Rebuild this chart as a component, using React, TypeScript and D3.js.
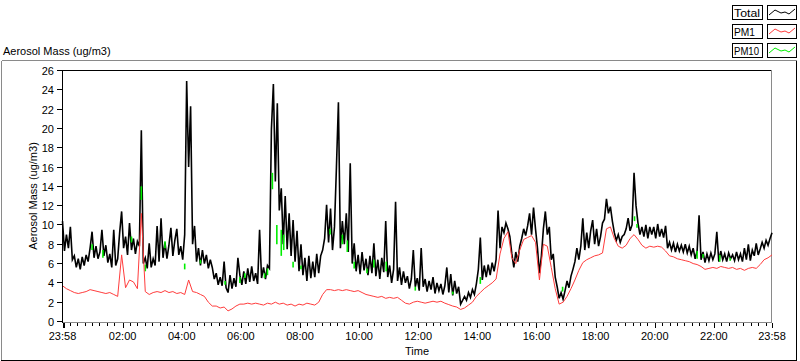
import React from "react";
import * as d3 from "d3";

// ---- Data ----
// Total aerosol mass, one sample every 4 minutes from 23:58 to 23:58 (361 samples)
const TOTAL_STEP_MIN = 4;
const totalValues: number[] = [
  10.4, 7.3, 9.0, 7.6, 9.8, 6.4, 6.8, 5.6, 6.5, 5.4, 6.7, 5.8, 6.9, 6.2, 7.6,
  9.3, 6.6, 7.8, 6.5, 7.2, 9.5, 6.8, 7.9, 6.1, 7.0, 5.6, 9.5, 5.8, 6.5, 9.2,
  11.4, 7.6, 8.8, 6.9, 10.2, 7.4, 8.6, 7.0, 8.3, 7.8, 19.8, 6.0, 6.6, 5.5, 8.1,
  5.6, 6.5, 5.8, 9.9, 6.2, 10.7, 6.6, 8.2, 6.5, 7.9, 9.7, 6.8, 8.4, 9.6, 6.9,
  7.8, 6.4, 9.0, 24.9, 16.0, 22.3, 8.0, 9.9, 6.2, 7.6, 5.8, 7.4, 6.0, 6.9, 5.5,
  6.4, 5.6, 4.4, 5.0, 3.8, 4.6, 3.7, 6.2, 3.5, 3.0, 4.8, 3.4, 4.5, 3.6, 6.6,
  4.8, 3.8, 5.2, 3.9, 5.5, 4.1, 5.7, 4.2, 5.0, 3.9, 9.5, 4.5, 5.6, 4.4, 5.8,
  5.5, 19.9, 24.6, 14.5, 22.6, 11.5, 13.8, 8.0, 13.0, 7.5, 11.2, 6.8, 10.5, 6.2, 9.4,
  5.2, 8.0, 4.8, 6.6, 4.2, 6.8, 4.5, 6.2, 4.6, 7.0, 5.0, 6.8, 7.4, 8.6, 12.1,
  8.2, 11.7, 7.4, 9.8, 16.0, 22.7, 7.6, 10.4, 8.0, 11.2, 7.2, 16.4, 6.0, 8.1, 5.2,
  6.9, 4.9, 7.2, 5.3, 6.5, 4.8, 6.8, 5.0, 8.1, 4.7, 6.4, 4.4, 6.6, 5.1, 10.4,
  4.6, 5.8, 4.0, 5.4, 12.4, 4.2, 5.6, 3.8, 5.2, 4.0, 4.7, 3.4, 4.4, 7.4, 3.6,
  4.5, 3.2, 7.6, 3.6, 4.4, 3.1, 4.2, 3.3, 4.6, 2.9, 4.0, 3.2, 3.9, 2.8, 3.7,
  5.6, 3.0, 4.9, 2.7, 4.2, 2.9, 3.6, 1.8, 2.2, 2.6, 2.2, 3.0, 2.5, 3.3, 2.8,
  3.9, 5.4, 8.7, 4.3, 5.8, 4.6, 5.9, 4.8, 6.1, 5.2, 6.4, 11.5, 7.6, 9.8, 9.2,
  10.2, 9.6, 8.8, 7.0, 5.6, 7.2, 6.2, 7.8, 8.6, 9.6, 8.9, 9.9, 11.2, 9.0, 11.8,
  9.6, 7.6, 5.0, 6.8, 9.6, 11.4, 9.0, 9.8, 6.4, 7.0, 4.6, 3.6, 2.4, 3.0, 2.3,
  3.2, 4.2, 3.5, 4.7, 5.4, 6.2, 7.6, 6.4, 7.8, 10.7, 7.4, 9.2, 7.6, 9.4, 10.5,
  8.0, 9.6, 7.8, 8.8, 10.2, 10.6, 12.7, 11.2, 11.9, 10.4, 9.2, 8.4, 9.0, 8.2, 8.8,
  9.0, 9.6, 10.7, 9.4, 10.0, 15.4, 12.0, 10.2, 9.0, 9.8, 8.8, 10.0, 8.6, 9.8, 9.0,
  9.8, 8.6, 10.1, 8.8, 9.6, 8.7, 9.9, 7.6, 8.2, 7.4, 8.1, 7.2, 8.0, 7.3, 7.9,
  7.2, 8.0, 7.1, 7.8, 6.9, 7.6, 6.5, 7.3, 11.0, 6.4, 7.2, 6.1, 7.0, 6.3, 7.1,
  6.4, 7.0, 9.3, 6.2, 7.3, 6.4, 7.0, 6.2, 7.1, 6.5, 6.9, 6.3, 7.2, 6.4, 7.0,
  6.2, 7.6, 6.4, 8.0, 6.3, 7.4, 6.8, 8.1, 6.9, 7.5, 8.2, 7.6, 8.4, 7.9, 8.6, 9.2,
];

// PM1, one sample every 8 minutes (181 samples)
const PM1_STEP_MIN = 8;
const pm1Values: number[] = [
  3.7, 3.4, 3.2, 3.0, 2.9, 3.0, 3.1, 3.3, 3.2, 3.1, 3.0, 2.9, 3.0, 2.8, 2.6,
  6.9, 3.5, 4.3, 4.1, 3.4, 11.2, 3.1, 2.8, 3.0, 3.1, 3.0, 3.2, 3.0, 3.1, 2.9,
  3.0, 2.8, 4.3, 3.1, 3.0, 2.8, 2.6, 2.0, 1.6, 1.6, 1.4, 1.5, 1.1, 1.3, 1.6,
  1.8, 1.8, 1.9, 1.8, 1.9, 1.8, 1.7, 1.9, 1.8, 2.0, 1.8, 1.9, 1.7, 1.8, 1.6,
  1.8, 1.7, 1.9, 1.8, 1.7, 2.0, 2.8, 3.3, 3.3, 3.2, 3.3, 3.2, 3.3, 3.2, 3.1,
  3.2, 3.0, 2.8, 2.7, 2.6, 2.5, 2.6, 2.4, 2.5, 2.4, 2.5, 2.2, 1.9, 1.8, 2.0,
  2.1, 2.0, 1.9, 2.0, 2.1, 2.0, 2.1, 1.9, 1.75, 1.6, 1.5, 1.25, 1.4, 1.7, 2.0,
  2.6, 3.0, 3.4, 3.7, 4.0, 4.4, 7.0, 8.6, 9.3, 6.6, 6.0, 7.4, 8.5, 8.7, 8.9,
  8.2, 4.3, 8.0, 7.8, 5.6, 3.4, 1.8, 2.0, 2.6, 3.4, 4.3, 5.3, 6.1, 6.4, 6.6,
  6.8, 6.9, 7.1, 9.6, 9.8, 8.6, 7.8, 7.6, 7.9, 8.6, 9.0, 8.5, 7.9, 7.6, 7.8,
  7.7, 7.8, 7.7, 7.3, 6.8, 6.7, 6.5, 6.4, 6.3, 6.2, 6.0, 5.9, 5.7, 5.4, 5.5,
  5.6, 5.5, 5.7, 5.6, 5.5, 5.6, 5.4, 5.5, 5.3, 5.5, 5.6, 5.5, 5.9, 6.4, 6.6,
  6.9,
];

// PM10: the excursions where it shows apart from Total (minute, low, high)
const pm10Minutes: number[] = [
  60, 82, 140, 160, 168, 208, 248, 280, 330, 360, 370, 410, 416, 426, 435, 444,
  449, 468, 484, 543, 568, 578, 592, 618, 632, 657, 716, 792, 848, 1015, 1161,
  1166, 1288, 1300, 1334, 1355,
];
const pm10Low: number[] = [
  7.4, 6.6, 8.2, 12.6, 5.2, 7.6, 5.4, 6.0, 3.8, 4.0, 4.5, 4.5, 4.8, 13.7, 8.0, 6.8,
  7.4, 5.6, 5.4, 9.0, 8.0, 7.2, 5.5, 5.0, 5.6, 5.2, 3.2, 2.8, 3.9, 3.1, 10.4,
  9.7, 6.5, 6.6, 6.2, 6.3,
];
const pm10High: number[] = [
  8.0, 7.4, 8.8, 14.0, 5.9, 8.3, 6.0, 6.4, 4.2, 4.6, 5.0, 5.0, 5.5, 15.4, 10.0, 9.5,
  9.0, 6.2, 5.8, 9.6, 9.0, 8.4, 6.2, 5.5, 6.4, 6.2, 3.6, 3.1, 4.6, 3.6, 10.9,
  10.1, 7.3, 7.0, 6.9, 6.6,
];

const xTickMinutes: number[] = [0, 122, 242, 362, 482, 602, 722, 842, 962, 1082, 1202, 1322, 1440];
const xTickLabels: string[] = ["23:58", "02:00", "04:00", "06:00", "08:00", "10:00", "12:00", "14:00", "16:00", "18:00", "20:00", "22:00", "23:58"];
const yTicks: number[] = [0, 2, 4, 6, 8, 10, 12, 14, 16, 18, 20, 22, 24, 26];

const legendNames: string[] = ["Total", "PM1", "PM10"];
const seriesColors: string[] = ["#000000", "#ff3c3c", "#00ee00"];
const legendTextWidths: number[] = [26, 21, 25];

const FONT = "'Liberation Sans', Arial, sans-serif";

export default function App() {
  const x = d3.scaleLinear().domain([0, 1440]).range([62.5, 772]);
  const y = d3.scaleLinear().domain([0, 26]).range([321.5, 70.5]);

  const totalPath = d3
    .line<number>()
    .x((_, i) => x(i * TOTAL_STEP_MIN))
    .y((d) => y(d))(totalValues) as string;
  const pm1Path = d3
    .line<number>()
    .x((_, i) => x(i * PM1_STEP_MIN))
    .y((d) => y(d))(pm1Values) as string;

  const minor: number[] = [];
  for (let k = 0; k < xTickMinutes.length - 1; k++) {
    for (let j = 1; j <= 7; j++) {
      const m = xTickMinutes[k] + j * 15;
      if (m < xTickMinutes[k + 1] - 5) minor.push(m);
    }
  }

  const px = (v: number) => Math.round(v) + 0.5;

  const legendSample = [
    [769, 14],
    [775, 9],
    [781, 12],
    [785, 11],
    [789, 13],
    [795, 8],
  ];
  const sampleLine = d3.line<number[]>().x((d) => d[0]).y((d) => d[1]);

  return (
    <div style={{ position: "fixed", left: 0, top: 0, width: 800, height: 361, background: "#fff" }}>
      <svg width={800} height={361} style={{ display: "block" }} fontFamily={FONT} fontSize={11}>
        <rect x={0} y={0} width={800} height={361} fill="#fff" />
        <text x={3} y={55} fill="#000">Aerosol Mass (ug/m3)</text>

        {/* outer frame */}
        <g shapeRendering="crispEdges">
          <line x1={1.5} y1={60.5} x2={797} y2={60.5} stroke="#8a8a8a" />
          <line x1={1.5} y1={60.5} x2={1.5} y2={360} stroke="#8a8a8a" />
          <line x1={1} y1={360.5} x2={797} y2={360.5} stroke="#000" />
          <line x1={796.5} y1={61} x2={796.5} y2={361} stroke="#000" />
        </g>

        {/* legend */}
        {legendNames.map((name, k) => {
          const ty = Math.round(4.5 + k * 19.2);
          return (
            <g key={name}>
              <rect x={732.5} y={ty + 0.5} width={30} height={14} fill="#fff" stroke="#000" shapeRendering="crispEdges" />
              <text
                x={734}
                y={ty + 12}
                fill="#000"
                fontSize={11.5}
                textLength={legendTextWidths[k]}
                lengthAdjust="spacingAndGlyphs"
              >
                {name}
              </text>
              <rect x={767.5} y={ty + 0.5} width={29} height={14} fill="#fff" stroke="#000" shapeRendering="crispEdges" />
              <path
                d={sampleLine(legendSample.map((p) => [p[0], p[1] + ty - 4])) as string}
                fill="none"
                stroke={seriesColors[k]}
                strokeWidth={1}
              />
            </g>
          );
        })}

        {/* plot frame */}
        <g shapeRendering="crispEdges">
          <line x1={62} y1={70.5} x2={772} y2={70.5} stroke="#000" />
          <line x1={771.5} y1={70} x2={771.5} y2={323} stroke="#8a8a8a" />
          <line x1={62} y1={322.5} x2={772} y2={322.5} stroke="#8a8a8a" />
        </g>

        {/* series */}
        <g>
          <path d={totalPath} fill="none" stroke={seriesColors[0]} strokeWidth={1.6} strokeLinejoin="miter" />
          {pm10Minutes.map((m, k) => (
            <line
              key={k}
              x1={x(m)}
              x2={x(m)}
              y1={y(pm10Low[k])}
              y2={y(pm10High[k])}
              stroke={seriesColors[2]}
              strokeWidth={1.6}
            />
          ))}
          <path d={pm1Path} fill="none" stroke={seriesColors[1]} strokeWidth={1} />
        </g>

        {/* y axis */}
        <g shapeRendering="crispEdges">
          <line x1={62.5} y1={70} x2={62.5} y2={323} stroke="#000" />
          {yTicks.map((v) => (
            <line key={v} x1={57} x2={62} y1={Math.floor(y(v)) + 0.5} y2={Math.floor(y(v)) + 0.5} stroke="#000" />
          ))}
        </g>
        {yTicks.map((v) => (
          <text key={v} x={54} y={Math.floor(y(v)) + 4.5} textAnchor="end" fill="#000">{v}</text>
        ))}
        <text transform="translate(37,196) rotate(-90)" textAnchor="middle" fill="#000">
          Aerosol Mass (ug/m3)
        </text>

        {/* x axis */}
        <g shapeRendering="crispEdges">
          {minor.map((m) => (
            <line key={m} x1={px(x(m))} x2={px(x(m))} y1={323} y2={326} stroke="#000" />
          ))}
          {xTickMinutes.map((m, k) => (
            <line key={k} x1={px(x(m))} x2={px(x(m))} y1={323} y2={328} stroke="#000" strokeWidth={k === 0 ? 2 : 1} />
          ))}
        </g>
        {xTickMinutes.map((m, k) => (
          <text key={k} x={x(m)} y={340} textAnchor="middle" fill="#000">{xTickLabels[k]}</text>
        ))}
        <text x={417} y={355} textAnchor="middle" fill="#000">Time</text>
      </svg>
    </div>
  );
}
